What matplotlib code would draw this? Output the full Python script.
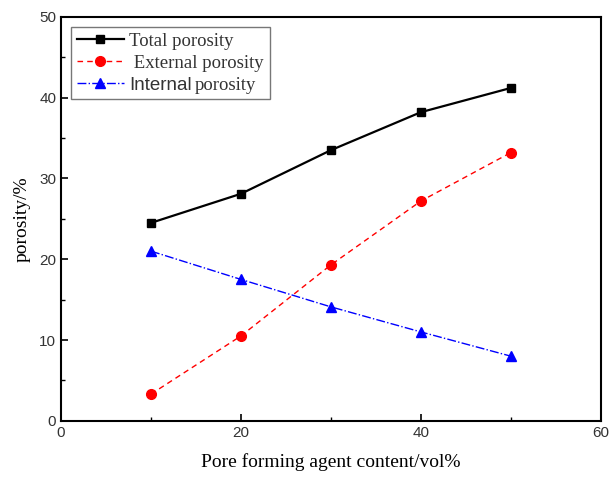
import matplotlib.pyplot as plt
from matplotlib.ticker import MultipleLocator

# Porosity vs pore forming agent content
content = [10, 20, 30, 40, 50]
total = [24.5, 28.1, 33.5, 38.2, 41.2]
external = [3.3, 10.5, 19.3, 27.2, 33.2]
internal = [21.0, 17.5, 14.1, 11.0, 8.0]

fig = plt.figure(figsize=(6.12, 4.82), dpi=100)
ax = fig.add_axes([0.0997, 0.127, 0.882, 0.838])

ax.plot(content, total, color='black', ls='-', lw=1.6, marker='s', ms=6,
        label='Total porosity')
ax.plot(content, external, color='red', ls=(0, (4, 3)), lw=1.0, marker='o', ms=7,
        label=' External porosity')
ax.plot(content, internal, color='blue', ls='-.', lw=1.0, marker='^', ms=7,
        label='Internal')

ax.set_xlim(0, 60)
ax.set_ylim(0, 50)
ax.xaxis.set_major_locator(MultipleLocator(20))
ax.xaxis.set_minor_locator(MultipleLocator(10))
ax.yaxis.set_major_locator(MultipleLocator(10))
ax.yaxis.set_minor_locator(MultipleLocator(5))
ax.tick_params(which='both', direction='in', top=False, right=False)
ax.tick_params(which='major', length=5, width=1.2)
ax.tick_params(which='minor', length=3, width=1.0)
for lbl in ax.get_xticklabels() + ax.get_yticklabels():
    lbl.set_family('Liberation Sans')
    lbl.set_fontsize(11)
    lbl.set_color('#333333')
for s in ax.spines.values():
    s.set_linewidth(1.5)

ax.set_xlabel('Pore forming agent content/vol%', family='Liberation Serif',
              fontsize=14, labelpad=10)
ax.set_ylabel('porosity/%', family='Liberation Serif', fontsize=14, labelpad=6)

leg = ax.legend(loc='upper left', bbox_to_anchor=(0.0, 1.0), borderaxespad=0.55,
                frameon=True, fancybox=False, edgecolor='#555555',
                handlelength=2.5, handletextpad=0.3, borderpad=0.3,
                labelspacing=0.25,
                prop={'family': 'Liberation Serif', 'size': 13.5})
leg.get_frame().set_linewidth(1.0)
for t in leg.get_texts():
    t.set_color('#333333')
leg.get_texts()[2].set_family('Liberation Sans')

# second half of the last legend label, set in serif after the sans word
fig.canvas.draw()
bb = leg.get_texts()[2].get_window_extent()
fig.text(bb.x1 + 3, bb.y0, 'porosity', family='Liberation Serif', fontsize=13.5,
         color='#333333', transform=None, va='bottom')

fig.savefig('out.png', dpi=100)
